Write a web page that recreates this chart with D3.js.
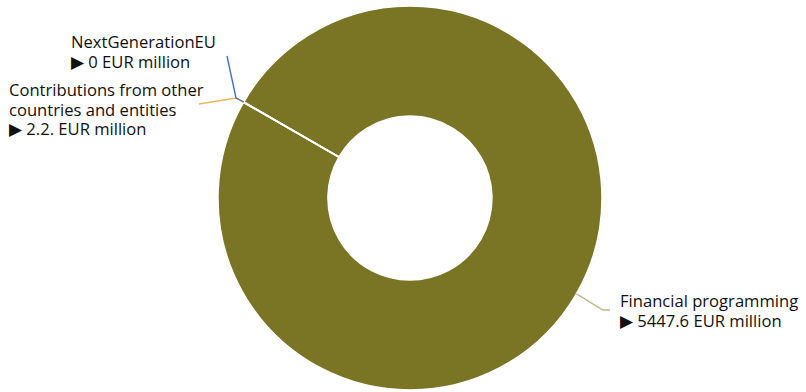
<!DOCTYPE html>
<html>
<head>
<meta charset="utf-8">
<script src="https://cdn.jsdelivr.net/npm/d3@7"></script>
<style>
  body { margin: 0; background: #fff; }
  svg { display: block; }
  .lbl { font-family: "Open Sans", "Noto Sans", sans-serif; font-size: 16.6px; fill: #111; }
</style>
</head>
<body>
<div id="chart"></div>
<script>
// data
var categories = ["Financial programming", "Contributions from other countries and entities", "NextGenerationEU"];
var values = [5447.6, 2.2, 0];
var valueLabels = ["5447.6", "2.2.", "0"];
var labelLines = [["Financial programming"], ["Contributions from other", "countries and entities"], ["NextGenerationEU"]];

var width = 806, height = 392;
var cx = 410, cy = 198, outerR = 192, innerR = 82;

var svg = d3.select("#chart").append("svg")
  .attr("width", width)
  .attr("height", height);

var g = svg.append("g").attr("transform", "translate(" + cx + "," + cy + ")");

var color = d3.scaleOrdinal()
  .domain(categories)
  .range(["#7a7425", "#f2b45c", "#4472c4"]);

var leaderColor = d3.scaleOrdinal()
  .domain(categories)
  .range(["#bcb98c", "#f2b45c", "#4472c4"]);

var pie = d3.pie()
  .sort(null)
  .value(function(d) { return d.value; })
  .startAngle(-Math.PI / 3)
  .endAngle(-Math.PI / 3 + 2 * Math.PI);

var data = categories.map(function(c, i) {
  return { name: c, value: values[i], label: valueLabels[i], lines: labelLines[i] };
});
var arcs = pie(data);

var arc = d3.arc().innerRadius(innerR).outerRadius(outerR);

g.selectAll("path.slice")
  .data(arcs)
  .enter().append("path")
    .attr("class", "slice")
    .attr("d", arc)
    .attr("fill", function(d) { return color(d.data.name); })
    .attr("stroke", "#fff")
    .attr("stroke-width", 1.5);

// label layout: leader bend/end points and text anchor (page coords)
var layout = [
  { pts: [[603, 310], [610, 310]], tx: 620, ty: 307 },
  { pts: [[236, 98], [199, 104]], tx: 9, ty: 96 },
  { pts: [[236, 98], [227, 56]], tx: 71, ty: 48 }
];

var lineH = 19.5;

arcs.forEach(function(a, i) {
  var mid = (a.startAngle + a.endAngle) / 2;
  var ex = cx + outerR * Math.sin(mid), ey = cy - outerR * Math.cos(mid);
  var pts = [[ex, ey]].concat(layout[i].pts);
  svg.append("path")
    .attr("d", d3.line()(pts))
    .attr("fill", "none")
    .attr("stroke", leaderColor(a.data.name))
    .attr("stroke-width", 1.4);

  var t = svg.append("text")
    .attr("class", "lbl")
    .attr("x", layout[i].tx)
    .attr("y", layout[i].ty);
  var lines = a.data.lines.concat(["\u25B6 " + a.data.label + " EUR million"]);
  lines.forEach(function(s, j) {
    t.append("tspan")
      .attr("x", layout[i].tx)
      .attr("dy", j === 0 ? 0 : lineH)
      .text(s);
  });
});
</script>
</body>
</html>
